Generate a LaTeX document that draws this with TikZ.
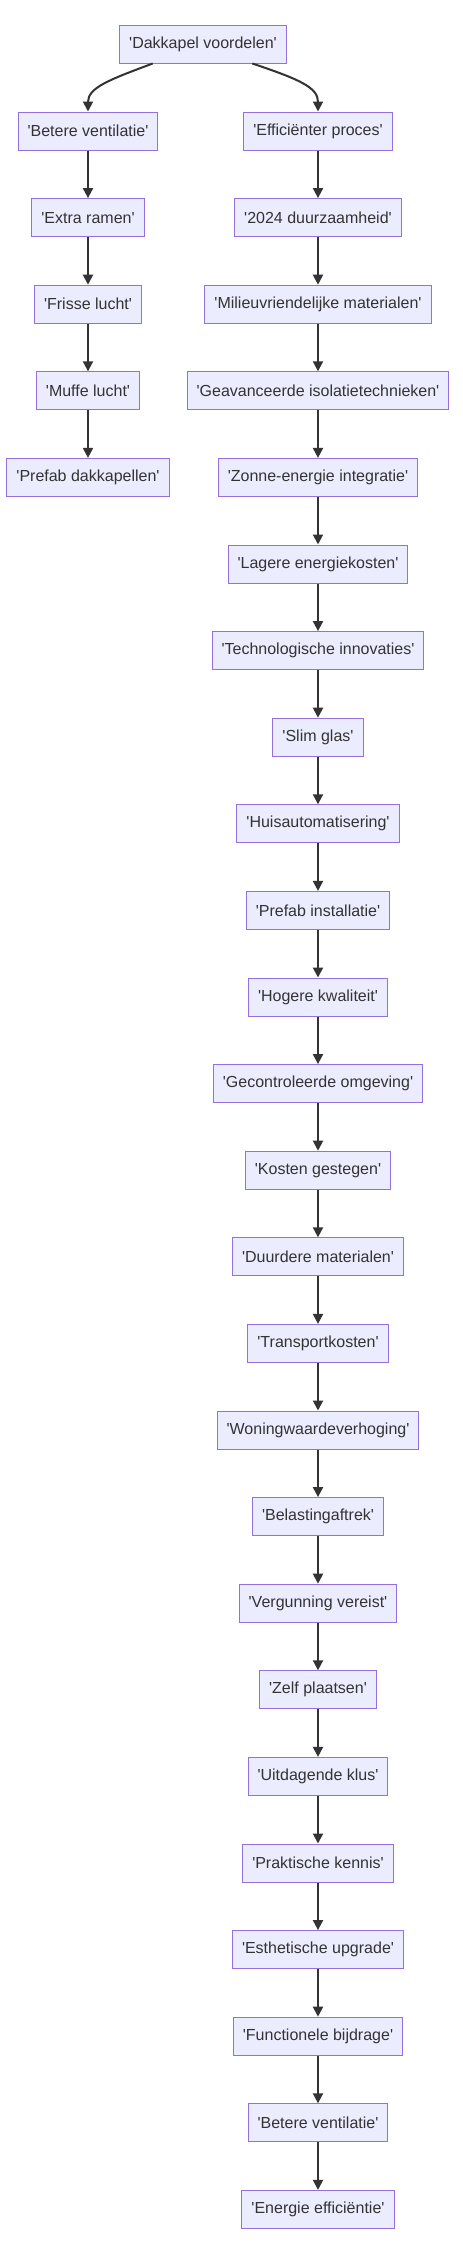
\documentclass[tikz,border=0pt]{standalone}
\usepackage{fontspec}
\setmainfont{Liberation Sans}
\usetikzlibrary{arrows.meta,calc}
\definecolor{nodefill}{HTML}{ECECFF}
\definecolor{nodeborder}{HTML}{9370DB}
\definecolor{ink}{HTML}{333333}
\newcommand{\sq}{\textquotesingle}
\begin{document}
\begin{tikzpicture}[x=1pt,y=-1pt,
  box/.style={draw=nodeborder, fill=nodefill, line width=1pt, minimum height=38pt,
    inner xsep=9.5pt, inner ysep=0pt, text=ink, font=\fontsize{16}{19}\selectfont},
  edge/.style={draw=ink, line width=2pt, -{Triangle[length=10pt,width=10pt]}}]
\useasboundingbox (0,0) rectangle (463,2254);
\node[box] (top) at (203,44) {\sq Dakkapel voordelen\sq};
% left column
\node[box] (l1) at (88,131) {\sq Betere ventilatie\sq};
\node[box] (l2) at (88,217.6) {\sq Extra ramen\sq};
\node[box] (l3) at (88,304.2) {\sq Frisse lucht\sq};
\node[box] (l4) at (88,390.8) {\sq Muffe lucht\sq};
\node[box] (l5) at (88,477.4) {\sq Prefab dakkapellen\sq};
% right column
\node[box] (r1) at (318,131) {\sq Efficiënter proces\sq};
\node[box] (r2) at (318,217.6) {\sq 2024 duurzaamheid\sq};
\node[box] (r3) at (318,304.2) {\sq Milieuvriendelijke materialen\sq};
\node[box] (r4) at (318,390.8) {\sq Geavanceerde isolatietechnieken\sq};
\node[box] (r5) at (318,477.4) {\sq Zonne-energie integratie\sq};
\node[box] (r6) at (318,564) {\sq Lagere energiekosten\sq};
\node[box] (r7) at (318,650.6) {\sq Technologische innovaties\sq};
\node[box] (r8) at (318,737.2) {\sq Slim glas\sq};
\node[box] (r9) at (318,823.8) {\sq Huisautomatisering\sq};
\node[box] (r10) at (318,910.4) {\sq Prefab installatie\sq};
\node[box] (r11) at (318,997) {\sq Hogere kwaliteit\sq};
\node[box] (r12) at (318,1083.6) {\sq Gecontroleerde omgeving\sq};
\node[box] (r13) at (318,1170.2) {\sq Kosten gestegen\sq};
\node[box] (r14) at (318,1256.8) {\sq Duurdere materialen\sq};
\node[box] (r15) at (318,1343.4) {\sq Transportkosten\sq};
\node[box] (r16) at (318,1430) {\sq Woningwaardeverhoging\sq};
\node[box] (r17) at (318,1516.6) {\sq Belastingaftrek\sq};
\node[box] (r18) at (318,1603.2) {\sq Vergunning vereist\sq};
\node[box] (r19) at (318,1689.8) {\sq Zelf plaatsen\sq};
\node[box] (r20) at (318,1776.4) {\sq Uitdagende klus\sq};
\node[box] (r21) at (318,1863) {\sq Praktische kennis\sq};
\node[box] (r22) at (318,1949.6) {\sq Esthetische upgrade\sq};
\node[box] (r23) at (318,2036.2) {\sq Functionele bijdrage\sq};
\node[box] (r24) at (318,2122.8) {\sq Betere ventilatie\sq};
\node[box] (r25) at (318,2209.4) {\sq Energie efficiëntie\sq};
% edges
\draw[edge] ($(top.south)+(-50.3,0)$) .. controls ($(l1.north)+(22,-32)$) and ($(l1.north)+(0,-24)$) .. (l1.north);
\draw[edge] ($(top.south)+(49.3,0)$) .. controls ($(r1.north)+(-18,-32)$) and ($(r1.north)+(0,-24)$) .. (r1.north);
\foreach \a/\b in {l1/l2,l2/l3,l3/l4,l4/l5} \draw[edge] (\a) -- (\b);
\foreach \i in {1,...,24} {
  \pgfmathtruncatemacro{\j}{\i+1}
  \draw[edge] (r\i) -- (r\j);
}
\end{tikzpicture}
\end{document}
